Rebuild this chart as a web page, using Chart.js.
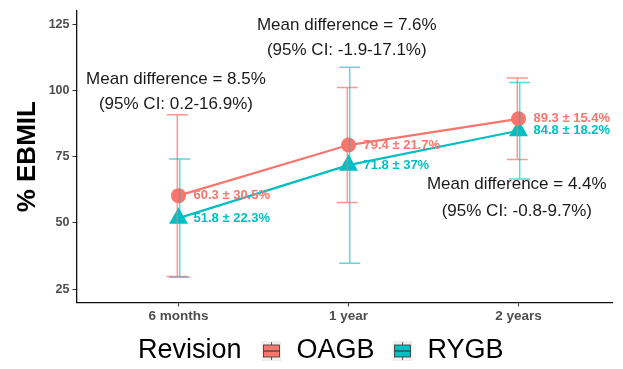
<!DOCTYPE html>
<html><head><meta charset="utf-8">
<script src="https://cdn.jsdelivr.net/npm/chart.js@4"></script>
<style>html,body{margin:0;padding:0;background:#fff}</style>
</head><body>
<canvas id="c" width="623" height="369" style="width:623px;height:369px;display:block"></canvas>
<script>
// ---- data ----
const categories = ['6 months', '1 year', '2 years'];
const oagbMean = [60.3, 79.4, 89.3];
const oagbSD   = [30.5, 21.7, 15.4];
const rygbMean = [51.8, 71.8, 84.8];
const rygbSD   = [22.3, 37, 18.2];
const yTicks   = [25, 50, 75, 100, 125];
const seriesNames = ['OAGB', 'RYGB'];
const legendTitle = 'Revision';
const diffLines = [
  ['Mean difference = 8.5%', '(95% CI: 0.2-16.9%)'],
  ['Mean difference = 7.6%', '(95% CI: -1.9-17.1%)'],
  ['Mean difference = 4.4%', '(95% CI: -0.8-9.7%)']
];
// positions of the difference annotations (data coordinates)
const diffPos = [
  {x: -0.015, y: [104.1, 94.8]},
  {x: 0.99,  y: [124.6, 115.3]},
  {x: 1.99,  y: [64.6, 54.5]}
];

const RED = '#F8766D', TEAL = '#00BFC4';
const FONT = '"Liberation Sans", Arial, Helvetica, sans-serif';

const toPts = arr => arr.map((v, i) => ({x: i, y: v}));

const overlay = {
  id: 'overlay',
  afterDatasetsDraw(chart) {
    const {ctx, scales: {x, y}} = chart;
    const sets = [
      {m: oagbMean, s: oagbSD, c: 'rgba(248,118,109,0.75)', col: RED, dx: -1.2},
      {m: rygbMean, s: rygbSD, c: 'rgba(0,191,196,0.62)', col: TEAL, dx: 1.2}
    ];
    ctx.save();
    // error bars
    sets.forEach(st => {
      ctx.strokeStyle = st.c;
      ctx.lineWidth = 1.5;
      st.m.forEach((m, i) => {
        const px = x.getPixelForValue(i) + st.dx;
        const top = y.getPixelForValue(m + st.s[i]);
        const bot = y.getPixelForValue(m - st.s[i]);
        ctx.beginPath();
        ctx.moveTo(px, top); ctx.lineTo(px, bot);
        ctx.moveTo(px - 10.5, top); ctx.lineTo(px + 10.5, top);
        ctx.moveTo(px - 10.5, bot); ctx.lineTo(px + 10.5, bot);
        ctx.stroke();
      });
    });
    // value labels
    ctx.font = 'bold 13px ' + FONT;
    ctx.textAlign = 'left';
    ctx.textBaseline = 'middle';
    sets.forEach(st => {
      ctx.fillStyle = st.col;
      st.m.forEach((m, i) => {
        const px = x.getPixelForValue(i) + 15;
        const py = y.getPixelForValue(m);
        ctx.fillText(m + ' \u00B1 ' + st.s[i] + '%', px, py);
      });
    });
    // difference annotations
    ctx.font = '17px ' + FONT;
    ctx.fillStyle = '#1a1a1a';
    ctx.textAlign = 'center';
    diffLines.forEach((lines, k) => {
      lines.forEach((t, j) => {
        ctx.fillText(t, x.getPixelForValue(diffPos[k].x), y.getPixelForValue(diffPos[k].y[j]));
      });
    });
    ctx.restore();
  },
  afterDraw(chart) {
    const {ctx} = chart;
    ctx.save();
    ctx.font = '27px ' + FONT;
    ctx.fillStyle = '#000';
    ctx.textAlign = 'left';
    ctx.textBaseline = 'middle';
    const cy = 351;
    let lx = 138;
    ctx.fillText(legendTitle, lx, cy);
    lx += ctx.measureText(legendTitle).width + 20;
    [RED, TEAL].forEach((col, k) => {
      const kx = lx, ky = cy - 10;
      ctx.fillStyle = '#EFEFEF';
      ctx.fillRect(kx, ky, 20, 20);
      ctx.strokeStyle = '#333';
      ctx.lineWidth = 0.8;
      ctx.beginPath();
      ctx.moveTo(kx + 10, ky + 1); ctx.lineTo(kx + 10, ky + 4);
      ctx.moveTo(kx + 10, ky + 16); ctx.lineTo(kx + 10, ky + 19);
      ctx.stroke();
      ctx.fillStyle = col;
      ctx.fillRect(kx + 2, ky + 4, 16, 12);
      ctx.strokeRect(kx + 2, ky + 4, 16, 12);
      ctx.lineWidth = 1.1;
      ctx.beginPath();
      ctx.moveTo(kx + 2, ky + 10); ctx.lineTo(kx + 18, ky + 10);
      ctx.stroke();
      lx += 20 + 15;
      ctx.fillStyle = '#000';
      ctx.fillText(seriesNames[k], lx, cy);
      lx += ctx.measureText(seriesNames[k]).width + 18;
    });
    ctx.restore();
  }
};

new Chart(document.getElementById('c'), {
  type: 'line',
  data: {
    datasets: [
      {label: seriesNames[0], data: toPts(oagbMean), borderColor: RED, backgroundColor: RED,
       borderWidth: 2.2, pointStyle: 'circle', pointRadius: 7.5, pointBorderWidth: 0},
      {label: seriesNames[1], data: toPts(rygbMean), borderColor: TEAL, backgroundColor: TEAL,
       borderWidth: 2.2, pointStyle: 'triangle', pointRadius: 11, pointBorderWidth: 0}
    ]
  },
  options: {
    responsive: false,
    devicePixelRatio: 1,
    animation: false,
    events: [],
    layout: {padding: {top: 7.6, right: 0, bottom: 42.6, left: 0}},
    plugins: {legend: {display: false}, tooltip: {enabled: false}},
    scales: {
      x: {
        type: 'linear', min: -0.6, max: 2.55,
        afterBuildTicks: s => { s.ticks = categories.map((c, i) => ({value: i})); },
        afterFit: s => { s.height = 24; },
        ticks: {callback: v => categories[v], font: {family: FONT, size: 13.5, weight: 'bold'},
                color: '#4D4D4D', padding: 2, maxRotation: 0, autoSkip: false},
        grid: {drawOnChartArea: false, drawTicks: true, tickLength: 4, color: '#333', lineWidth: 1},
        border: {display: true, color: '#111', width: 1.3}
      },
      y: {
        min: 20, max: 130,
        afterBuildTicks: s => { s.ticks = yTicks.map(v => ({value: v})); },
        afterFit: s => { s.width = 76.5; },
        ticks: {font: {family: FONT, size: 12.5, weight: 'bold'}, color: '#4D4D4D', padding: 3},
        grid: {drawOnChartArea: false, drawTicks: true, tickLength: 4, color: '#333', lineWidth: 1},
        border: {display: true, color: '#111', width: 1.3},
        title: {display: true, text: '% EBMIL', color: '#000',
                font: {family: FONT, size: 26, weight: 'bold'}, padding: {top: 12, bottom: 0}}
      }
    }
  },
  plugins: [overlay]
});
</script>
</body></html>
